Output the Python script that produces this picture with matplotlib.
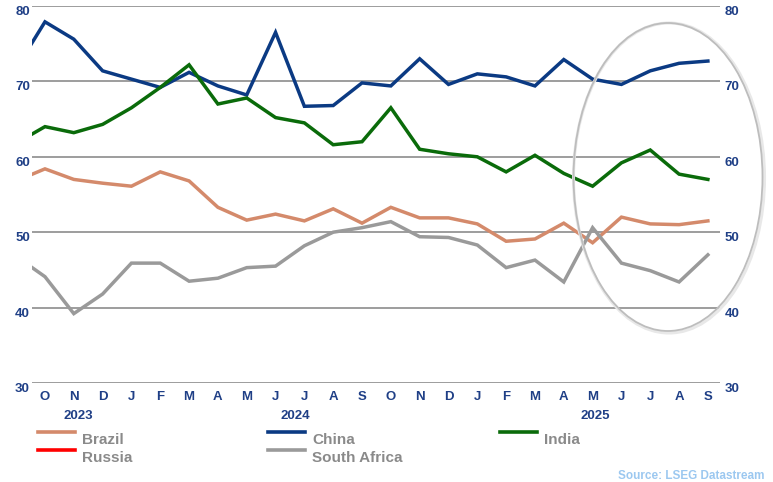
import numpy as np
import matplotlib
matplotlib.use("Agg")
import matplotlib.pyplot as plt
import matplotlib.transforms as mtransforms
from matplotlib.patches import Ellipse
from matplotlib.lines import Line2D
from matplotlib import font_manager as fm

# ---- data (Sep 2023 .. Sep 2025; first point lies just left of the visible window) ----
months = ['S', 'O', 'N', 'D', 'J', 'F', 'M', 'A', 'M', 'J', 'J', 'A', 'S',
          'O', 'N', 'D', 'J', 'F', 'M', 'A', 'M', 'J', 'J', 'A', 'S']
brazil = [56.8, 58.4, 57.0, 56.5, 56.1, 58.0, 56.8, 53.3, 51.6, 52.4, 51.5, 53.1, 51.2,
          53.3, 51.9, 51.9, 51.1, 48.8, 49.1, 51.2, 48.6, 52.0, 51.1, 51.0, 51.5]
russia = [np.nan] * 25
china = [71.7, 77.9, 75.6, 71.4, 70.3, 69.2, 71.2, 69.4, 68.2, 76.5, 66.7, 66.8, 69.8,
         69.4, 73.0, 69.6, 71.0, 70.6, 69.4, 72.9, 70.3, 69.6, 71.4, 72.4, 72.7]
south_africa = [46.8, 44.1, 39.2, 41.8, 45.9, 45.9, 43.5, 43.9, 45.3, 45.5, 48.2, 50.0, 50.6,
                51.4, 49.4, 49.3, 48.3, 45.3, 46.3, 43.4, 50.6, 45.9, 44.9, 43.4, 47.0]
india = [61.8, 64.0, 63.2, 64.3, 66.5, 69.2, 72.2, 67.0, 67.8, 65.2, 64.5, 61.6, 62.0,
         66.5, 61.0, 60.4, 60.0, 58.0, 60.2, 57.8, 56.1, 59.2, 60.9, 57.7, 57.0]
years = ['2023', '2024', '2025']
year_pos = [1.15, 8.7, 19.1]
series_names = ['Brazil', 'Russia', 'China', 'South Africa', 'India']
yticks = [30, 40, 50, 60, 70, 80]

# ---- fonts ----
avail = {f.name for f in fm.fontManager.ttflist}
fam = ['Liberation Sans Narrow', 'Liberation Sans', 'DejaVu Sans'] if 'Liberation Sans Narrow' in avail \
    else ['Liberation Sans', 'DejaVu Sans']
plt.rcParams['font.family'] = fam

W, H = 773, 482
fig = plt.figure(figsize=(W / 100, H / 100), dpi=100)
ax = fig.add_axes([32 / W, 1 - 383 / H, (720 - 32) / W, (383 - 6) / H])

x = np.arange(len(months)) - 1  # Sep 2023 at -1, Oct 2023 at 0

colors = {'Brazil': '#d48a6b', 'Russia': '#ff0000', 'China': '#0b3a83',
          'South Africa': '#9a9a9a', 'India': '#0a6b0a'}
data = {'Brazil': brazil, 'Russia': russia, 'China': china,
        'South Africa': south_africa, 'India': india}

for name in ['Brazil', 'Russia', 'China', 'India', 'South Africa']:
    ax.plot(x, data[name], color=colors[name], lw=2.5, solid_joinstyle='miter', zorder=3)

ax.set_xlim(-0.45, 23.42)
ax.set_ylim(30, 80)
for v in yticks:
    ax.axhline(v, color='#8c8c8c', lw=1.2, zorder=1)
for s in ax.spines.values():
    s.set_visible(False)

ax.set_xticks(x[1:])
ax.set_xticklabels(months[1:])
ax.set_yticks(yticks)
ax.tick_params(axis='both', length=0, labelsize=9.5, labelcolor='#1f3f86')
ax.tick_params(axis='x', pad=6)
ax.tick_params(axis='y', pad=1.5)
for lab in ax.get_xticklabels() + ax.get_yticklabels():
    lab.set_fontweight('bold')
for lab in ax.get_yticklabels():
    lab.set_verticalalignment('top')

ax2 = ax.twinx()
ax2.set_ylim(30, 80)
ax2.set_yticks(yticks)
ax2.tick_params(axis='y', length=0, labelsize=9.5, labelcolor='#1f3f86', pad=3.5)
for lab in ax2.get_yticklabels():
    lab.set_fontweight('bold')
    lab.set_verticalalignment('top')
for s in ax2.spines.values():
    s.set_visible(False)

# year labels
ytrans = mtransforms.blended_transform_factory(ax.transData, fig.transFigure)
for yl, xp in zip(years, year_pos):
    ax.text(xp, 1 - 416 / H, yl, transform=ytrans,
            ha='center', va='center', fontsize=9.5, fontweight='bold', color='#1f3f86')

# ellipse highlight
ell2 = Ellipse((669 / W, 1 - 178 / H), 191 / W, 310 / H, transform=fig.transFigure,
               fill=False, edgecolor='#e8e8e8', lw=2.2, zorder=4)
fig.add_artist(ell2)
ell = Ellipse((668 / W, 1 - 177 / H), 189 / W, 308 / H, transform=fig.transFigure,
              fill=False, edgecolor='#bdbdbd', lw=1.3, zorder=5)
fig.add_artist(ell)

# legend (manual layout)
leg = [('Brazil', 38, 432), ('Russia', 38, 450), ('China', 268, 432),
       ('South Africa', 268, 450), ('India', 500, 432)]
for name, lx, ly in leg:
    fig.add_artist(Line2D([lx / W, (lx + 37) / W], [1 - ly / H, 1 - ly / H],
                          transform=fig.transFigure, color=colors[name], lw=2.6))
    fig.text((lx + 44) / W, 1 - (ly + 8) / H, name, ha='left', va='center',
             fontsize=11, fontweight='bold', color='#8a8a8a')

fig.text(764 / W, 1 - 476 / H, 'Source: LSEG Datastream', ha='right', va='center',
         fontsize=8.5, fontweight='bold', color='#9cc8f0')

fig.savefig('out.png', dpi=100)
